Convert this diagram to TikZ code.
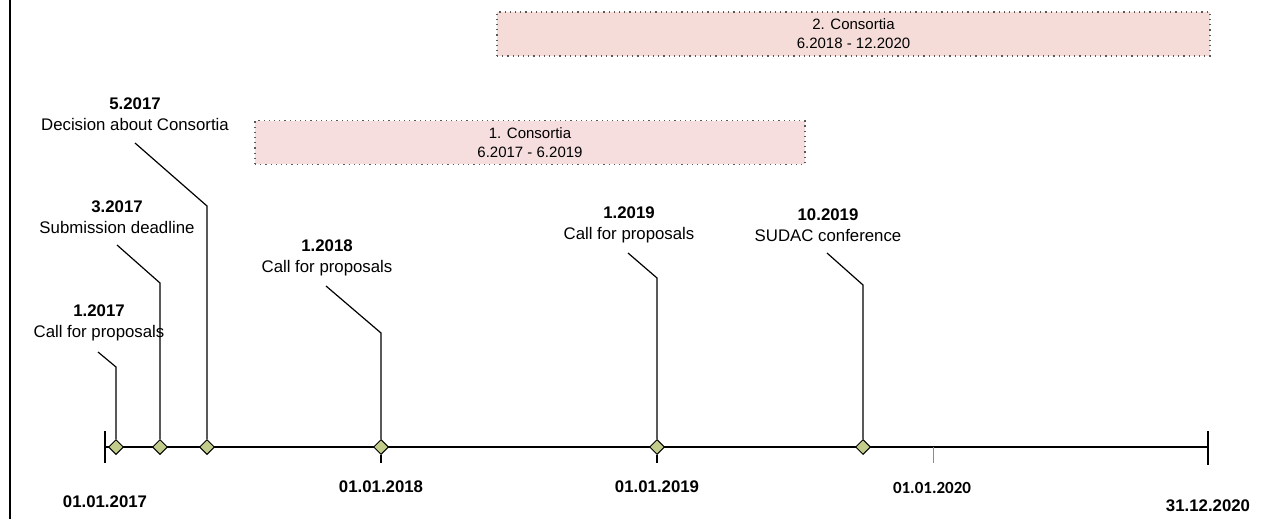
\documentclass[tikz,border=0pt]{standalone}
\usepackage{fontspec}
\setmainfont{Liberation Sans}
\newfontfamily\carlito{Carlito}
\usepackage{tikz}
\usetikzlibrary{shapes.geometric}

\definecolor{milestonegreen}{RGB}{196,204,140}
\definecolor{periodpink}{RGB}{246,222,222}
\definecolor{periodsalmon}{RGB}{245,220,216}

\begin{document}
\begin{tikzpicture}[x=0.5pt,y=-0.5pt]
			\tikzstyle{every node} = [font = \fontsize{8.4}{10.5}\selectfont]
			\tikzstyle{milestone} = [draw, diamond, fill = milestonegreen, inner sep = 0pt, minimum size = 7.5pt, line width = 0.5pt]
			\tikzstyle{event} = [align = center]
			\tikzstyle{leader} = [draw, line width = 0.6pt]
			\tikzstyle{datelabel} = [font = \fontsize{8.4}{10}\selectfont\bfseries]
			\tikzstyle{period} = [draw = black!65, dotted, line width = 0.6pt, align = center, font = \fontsize{7.5}{9.5}\selectfont]
				\useasboundingbox (0,0) rectangle (1272,519);
				% frame on the left
				\path[draw, line width = 0.6pt] (10,0)--(10,519);
				% periods
				\node[period, fill = periodpink, minimum width = 275pt, minimum height = 20pt] (cons1) at (530,142.5) {1. Consortia\\6.2017 - 6.2019};
				\node[period, fill = periodsalmon, minimum width = 356.5pt, minimum height = 22pt] (cons2) at (853.5,34) {2. Consortia\\6.2018 - 12.2020};
				% time axis
				\coordinate (start) at (105,447);
				\coordinate (stop) at (1208,447);
				\path[draw, line width = 0.75pt] (start)--(stop);
				\path[draw, line width = 0.8pt] (start) ++(0,-16)-- ++(0,32);
				\path[draw, line width = 0.8pt] (stop) ++(0,-16)-- ++(0,34);
				\coordinate (jan20) at (933,447);
				\path[draw, black!45, line width = 0.3pt] (jan20)-- ++(0,16);
				% milestones
				\node[milestone] (m1) at (116,447) {};
				\node[milestone] (m2) at (160,447) {};
				\node[milestone] (m3) at (207,447) {};
				\node[milestone] (m4) at (381,447) {};
				\node[milestone] (m5) at (657,447) {};
				\node[milestone] (m6) at (863,447) {};
				\path[draw, line width = 0.6pt] (m4.south)-- ++(0,8);
				\path[draw, line width = 0.6pt] (m5.south)-- ++(0,8);
				% events
				\node[event] (e1) at (99,323) {\textbf{1.2017}\\Call for proposals};
				\node[event] (e2) at (117,217) {\textbf{3.2017}\\Submission deadline};
				\node[event] (e3) at (135,114) {\textbf{5.2017}\\Decision about Consortia};
				\node[event] (e4) at (327,258) {\textbf{1.2018}\\Call for proposals};
				\node[event] (e5) at (629,225) {\textbf{1.2019}\\Call for proposals};
				\node[event] (e6) at (828,225) {\textbf{10.2019}\\SUDAC conference};
				% leaders
				\coordinate (k1) at (116,367); \coordinate (f1) at (98,352);
				\coordinate (k2) at (160,283); \coordinate (f2) at (117,245);
				\coordinate (k3) at (207,206); \coordinate (f3) at (135,143);
				\coordinate (k4) at (381,333); \coordinate (f4) at (326,286);
				\coordinate (k5) at (657,278); \coordinate (f5) at (628,253);
				\coordinate (k6) at (863,285); \coordinate (f6) at (827,253);
				\path[leader] (m1)--(k1)--(f1);
				\path[leader] (m2)--(k2)--(f2);
				\path[leader] (m3)--(k3)--(f3);
				\path[leader] (m4)--(k4)--(f4);
				\path[leader] (m5)--(k5)--(f5);
				\path[leader] (m6)--(k6)--(f6);
				% dates
				\node[datelabel] (d17) at (105,502) {01.01.2017};
				\node[datelabel] (d18) at (381,487) {01.01.2018};
				\node[datelabel] (d19) at (657,487) {01.01.2019};
				\node[datelabel, font = \fontsize{8.5}{10}\selectfont\carlito\bfseries] (d20) at (932,488) {01.01.2020};
				\node[datelabel] (d21) at (1208,506) {31.12.2020};
			\end{tikzpicture}
\end{document}
